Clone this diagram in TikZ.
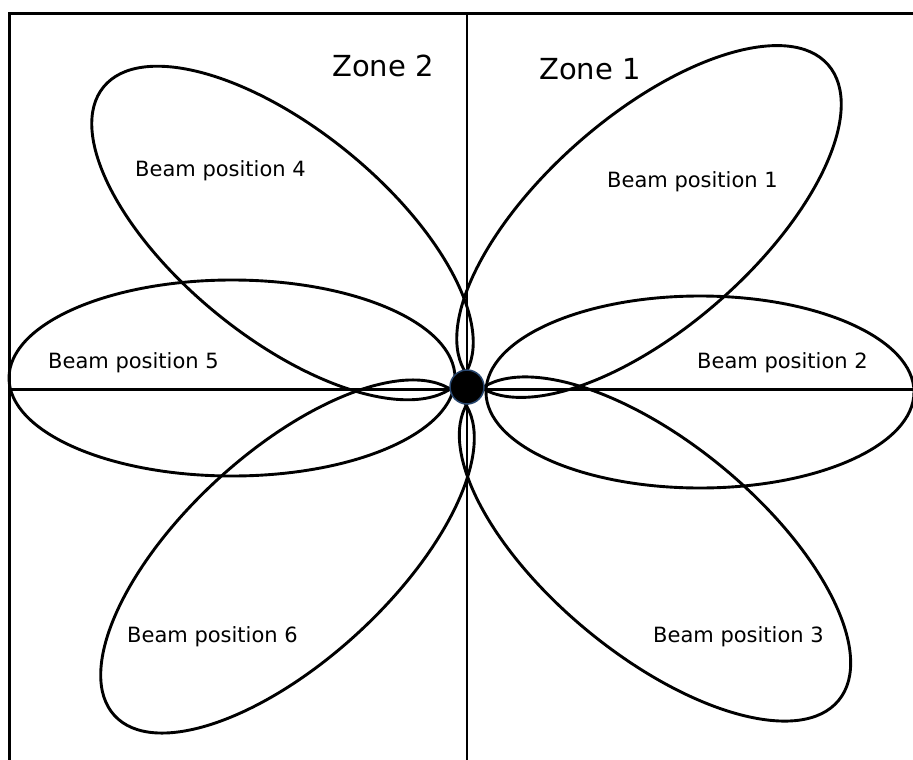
\documentclass[tikz,border=0pt]{standalone}
\usepackage{fontspec}
\setmainfont{DejaVu Sans}
\begin{document}
\begin{tikzpicture}[x=1pt,y=-1pt,
  petal/.style={line width=2.9pt},
  axisline/.style={line width=2.4pt},
  framel/.style={line width=3pt},
  beamlbl/.style={anchor=base west,inner sep=0pt,font=\fontsize{21}{24}\selectfont},
  zonelbl/.style={anchor=base west,inner sep=0pt,font=\fontsize{29}{32}\selectfont}]
\useasboundingbox (0,0) rectangle (913,760);
\fill[white] (0,0) rectangle (913,760);
% frame
\draw[framel] (9.5,760) -- (9.5,13.5) -- (913,13.5);
% axes
\draw[framel] (9.5,389.5) -- (913,389.5);
\draw[axisline] (467,13.5) -- (467,760);
% petals
\draw[petal,rotate around={41.2:(649,221.5)}] (649,221.5) ellipse [x radius=238pt,y radius=106pt];
\draw[petal,rotate around={-39.2:(282.5,233)}] (282.5,233) ellipse [x radius=231pt,y radius=104pt];
\draw[petal] (232,378) ellipse [x radius=223pt,y radius=98pt];
\draw[petal] (700,392) ellipse [x radius=214pt,y radius=96pt];
\draw[petal,rotate around={42.6:(287.5,556.5)}] (287.5,556.5) ellipse [x radius=235pt,y radius=104pt];
\draw[petal,rotate around={-39.5:(655,549)}] (655,549) ellipse [x radius=238pt,y radius=106pt];
% centre
\node[circle,minimum size=34pt,inner sep=0pt,fill=black,draw={rgb,255:red,40;green,70;blue,110},line width=1.5pt] (src) at (467,387) {};
% labels
\node[zonelbl] (z2) at (332,77) {Zone 2};
\node[zonelbl] (z1) at (539,80) {Zone 1};
\node[beamlbl] (b4) at (135,176) {Beam position 4};
\node[beamlbl] (b1) at (607,187) {Beam position 1};
\node[beamlbl] (b5) at (48,368) {Beam position 5};
\node[beamlbl] (b2) at (697,368) {Beam position 2};
\node[beamlbl] (b6) at (127,642) {Beam position 6};
\node[beamlbl] (b3) at (653,642) {Beam position 3};
\end{tikzpicture}
\end{document}
